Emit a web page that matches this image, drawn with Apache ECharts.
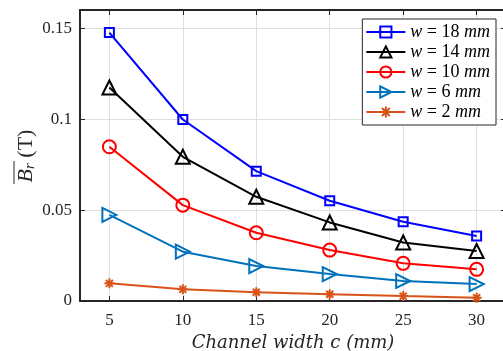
<!DOCTYPE html>
<html>
<head>
<meta charset="utf-8">
<script src="https://cdn.jsdelivr.net/npm/echarts@6/dist/echarts.min.js"></script>
<style>
  html, body { margin: 0; padding: 0; background: #fff; }
  #chart { width: 503px; height: 351px; }
</style>
</head>
<body>
<div id="chart"></div>
<script>
const channelWidth = [5, 10, 15, 20, 25, 30]
const seriesNames = ['w = 18 mm', 'w = 14 mm', 'w = 10 mm', 'w = 6 mm', 'w = 2 mm']
const w18 = [0.1476, 0.0998, 0.0714, 0.0551, 0.0436, 0.0357]
const w14 = [0.1174, 0.0793, 0.0573, 0.0432, 0.0322, 0.0275]
const w10 = [0.0848, 0.0527, 0.0375, 0.0280, 0.0207, 0.0174]
const w6 = [0.0473, 0.0271, 0.0192, 0.0148, 0.0110, 0.0093]
const w2 = [0.0097, 0.0064, 0.0048, 0.0037, 0.0027, 0.0018]

const FONT = 'Liberation Serif'
const star = 'path://M5,0 L5,10 M0,5 L10,5 M1.5,1.5 L8.5,8.5 M8.5,1.5 L1.5,8.5'

const styles = [
  { color: '#0000ff', symbol: 'rect', size: 9, rotate: 0 },
  { color: '#000000', symbol: 'triangle', size: 14, rotate: 0 },
  { color: '#ff0000', symbol: 'circle', size: 13, rotate: 0 },
  { color: '#0072bd', symbol: 'triangle', size: 14, rotate: -90 },
  { color: '#d95319', symbol: star, size: 10, rotate: 0 },
]
const allValues = [w18, w14, w10, w6, w2]

const chart = echarts.init(document.getElementById('chart'))

const series = allValues.map((vals, i) => ({
  name: seriesNames[i],
  type: 'line',
  data: vals.map((v, j) => [channelWidth[j], v]),
  symbol: styles[i].symbol,
  symbolSize: styles[i].size,
  symbolRotate: styles[i].rotate,
  showAllSymbol: true,
  lineStyle: { color: styles[i].color, width: 2 },
  itemStyle: { color: 'rgba(0,0,0,0)', borderColor: styles[i].color, borderWidth: 2 },
  emphasis: { disabled: true },
  z: 10 - i,
}))

const boxLine = { show: true, onZero: false, lineStyle: { color: '#262626', width: 2 } }
const tickIn = { show: true, inside: true, length: 5, lineStyle: { color: '#262626', width: 1 } }
const gridLine = { show: true, lineStyle: { color: '#dfdfdf', width: 1 } }

// y axis title: B with overline and subscript r, drawn rotated
const yTitle = {
  type: 'group',
  x: 26,
  y: 156,
  rotation: Math.PI / 2,
  children: [{
    type: 'text',
    style: {
      text: '{b|B}{s|r} (T)',
      align: 'center',
      verticalAlign: 'middle',
      fill: '#262626',
      font: '22px ' + FONT,
      rich: {
        b: { fontFamily: FONT, fontSize: 22, fontStyle: 'italic', fill: '#262626', lineHeight: 24 },
        s: { fontFamily: FONT, fontSize: 15, fontStyle: 'italic', fill: '#262626', verticalAlign: 'bottom', lineHeight: 24 },
      },
    },
  }, {
    type: 'line',
    shape: { x1: -28, y1: -12, x2: -5, y2: -12 },
    style: { stroke: '#262626', lineWidth: 1 },
  }],
}

chart.setOption({
  backgroundColor: '#fff',
  animation: false,
  grid: { left: 80, top: 10, right: -3, bottom: 50, outerBoundsMode: 'none', containLabel: false },
  legend: {
    data: seriesNames,
    orient: 'vertical',
    right: 7,
    top: 19,
    backgroundColor: '#fff',
    borderColor: '#262626',
    borderWidth: 1,
    borderRadius: 0,
    padding: [3, 6, 3, 3],
    itemWidth: 39,
    itemHeight: 14,
    itemGap: 0,
    formatter: name => name.replace('w', '{i|w}').replace('mm', '{i|mm}'),
    textStyle: {
      fontFamily: FONT, fontSize: 18, color: '#000', lineHeight: 20,
      rich: { i: { fontFamily: FONT, fontSize: 18, fontStyle: 'italic', color: '#000', lineHeight: 20 } },
    },
  },
  xAxis: [{
    type: 'value',
    min: 3,
    max: 32,
    splitNumber: 5,
    position: 'bottom',
    name: 'Channel width c (mm)',
    nameLocation: 'middle',
    nameGap: 29,
    nameTextStyle: { fontFamily: 'DejaVu Serif', fontSize: 18, fontStyle: 'italic', color: '#262626' },
    axisLine: boxLine,
    axisTick: tickIn,
    splitLine: gridLine,
    axisLabel: {
      showMinLabel: false, showMaxLabel: false, margin: 11,
      fontFamily: FONT, fontSize: 17, color: '#262626',
    },
  }, {
    type: 'value',
    min: 3,
    max: 32,
    splitNumber: 5,
    position: 'top',
    axisLine: boxLine,
    axisTick: tickIn,
    splitLine: { show: false },
    axisLabel: { show: false },
  }],
  yAxis: [{
    type: 'value',
    min: 0,
    max: 0.16,
    interval: 0.05,
    position: 'left',
    axisLine: boxLine,
    axisTick: tickIn,
    splitLine: gridLine,
    axisLabel: {
      showMaxLabel: false, margin: 8,
      fontFamily: FONT, fontSize: 17, color: '#262626',
    },
  }, {
    type: 'value',
    min: 0,
    max: 0.16,
    interval: 0.05,
    position: 'right',
    axisLine: boxLine,
    axisTick: tickIn,
    splitLine: { show: false },
    axisLabel: { show: false },
  }],
  graphic: [yTitle],
  series: series,
})
window.addEventListener('resize', () => chart.resize())
</script>
</body>
</html>
